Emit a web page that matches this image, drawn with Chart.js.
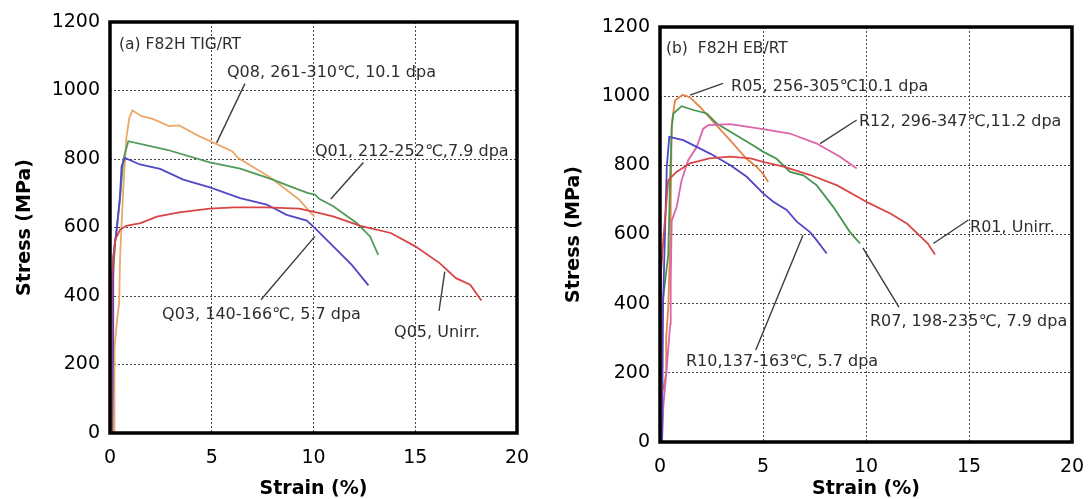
<!DOCTYPE html>
<html>
<head>
<meta charset="utf-8">
<script src="https://cdn.jsdelivr.net/npm/chart.js@4"></script>
<style>
  body { margin:0; background:#fff; width:1090px; height:499px; overflow:hidden; }
  .box { position:absolute; top:0; height:499px; }
  #boxA { left:0; width:540px; }
  #boxB { left:540px; width:550px; }
</style>
</head>
<body>
<div class="box" id="boxA"><canvas id="chartA"></canvas></div>
<div class="box" id="boxB"><canvas id="chartB"></canvas></div>
<script>
// axis ticks
const strainTicks = [0, 5, 10, 15, 20];
const stressTicks = [0, 200, 400, 600, 800, 1000, 1200];

// (a) F82H TIG/RT
const q08Strain = [0.2, 0.22, 0.35, 0.45, 0.5, 0.65, 0.8, 0.95, 1.1, 1.55, 2.1, 2.9, 3.4, 4.4, 5.0, 6.0, 6.3, 7.9, 9.3, 9.8, 10.05];
const q08Stress = [0, 250, 330, 380, 520, 710, 860, 920, 942, 925, 917, 896, 898, 866, 850, 823, 803, 745, 681, 647, 632];
const q01Strain = [0.1, 0.13, 0.25, 0.49, 0.65, 0.9, 2.8, 4.9, 6.4, 8.0, 8.85, 9.7, 10.07, 10.3, 10.97, 12.12, 12.78, 13.18];
const q01Stress = [0, 438, 555, 681, 798, 852, 827, 790, 772, 740, 720, 701, 696, 683, 662, 613, 574, 520];
const q03Strain = [0.1, 0.16, 0.16, 0.33, 0.49, 0.57, 0.74, 1.47, 2.46, 3.6, 4.91, 6.39, 7.7, 8.68, 9.67, 10.07, 10.97, 11.88, 12.7];
const q03Stress = [0, 300, 515, 594, 691, 779, 803, 784, 771, 740, 717, 686, 667, 637, 620, 598, 545, 491, 431];
const q05Strain = [0.05, 0.08, 0.1, 0.25, 0.5, 0.8, 1.5, 2.3, 3.4, 4.9, 6.1, 7.7, 9.3, 10.3, 11.0, 12.3, 13.8, 15.0, 16.2, 17.0, 17.7, 18.25];
const q05Stress = [0, 300, 460, 564, 594, 605, 613, 632, 644, 655, 659, 659, 655, 642, 632, 605, 584, 545, 496, 452, 433, 387];

// (b) F82H EB/RT
const r05Strain = [0.15, 0.3, 0.3, 0.4, 0.5, 0.52, 0.57, 0.73, 1.1, 1.45, 1.95, 2.6, 3.4, 4.2, 4.7, 5.0, 5.25];
const r05Stress = [150, 200, 300, 390, 580, 700, 920, 988, 1004, 997, 968, 925, 873, 819, 795, 776, 752];
const r07Strain = [0, 0.02, 0.16, 0.4, 0.49, 0.57, 0.65, 1.05, 1.62, 2.27, 2.75, 3.56, 4.37, 5.02, 5.66, 6.31, 6.96, 7.61, 8.41, 9.22, 9.71];
const r07Stress = [0, 250, 420, 540, 757, 911, 950, 971, 960, 950, 921, 892, 863, 839, 819, 781, 771, 742, 680, 607, 574];
const r10Strain = [0.1, 0.15, 0.24, 0.33, 0.45, 1.13, 2.43, 3.4, 4.21, 5.01, 5.5, 6.15, 6.64, 7.28, 7.61, 8.09];
const r10Stress = [0, 400, 600, 796, 882, 873, 834, 801, 767, 719, 695, 671, 637, 607, 583, 545];
const r01Strain = [0.03, 0.05, 0.05, 0.16, 0.4, 0.8, 1.45, 2.4, 3.4, 4.4, 5.0, 6.0, 7.3, 8.6, 10.1, 11.2, 12.0, 12.6, 13.0, 13.35];
const r01Stress = [0, 300, 490, 584, 757, 781, 806, 820, 825, 820, 810, 796, 772, 742, 692, 660, 631, 597, 574, 542];
const r12Strain = [0.1, 0.16, 0.33, 0.5, 0.52, 0.57, 0.81, 1.05, 1.37, 1.78, 2.1, 2.35, 3.4, 4.85, 6.31, 7.61, 8.74, 9.55];
const r12Stress = [0, 102, 217, 342, 468, 640, 680, 757, 815, 853, 906, 916, 919, 906, 892, 863, 825, 791];

// callouts: text, text anchor (strain, stress), leader from -> to
const notesA = [
  { text: 'Q08, 261-310\u2103, 10.1 dpa', at: [5.75, 1053], from: [6.63, 1020], to: [5.24, 847] },
  { text: 'Q01, 212-252\u2103,7.9 dpa', at: [10.07, 822], from: [12.45, 790], to: [10.85, 683] },
  { text: 'Q03, 140-166\u2103, 5.7 dpa', at: [2.56, 345], from: [7.42, 389], to: [10.07, 574] },
  { text: 'Q05, Unirr.', at: [13.96, 292], from: [16.17, 357], to: [16.45, 471] }
];
const notesB = [
  { text: 'R05, 256-305\u210310.1 dpa', at: [3.45, 1026], from: [3.06, 1037], to: [1.46, 1003] },
  { text: 'R12, 296-347\u2103,11.2 dpa', at: [9.66, 925], from: [9.55, 931], to: [7.77, 863] },
  { text: 'R01, Unirr.', at: [15.05, 618], from: [14.97, 642], to: [13.27, 574] },
  { text: 'R07, 198-235\u2103, 7.9 dpa', at: [10.19, 347], from: [9.85, 561], to: [11.6, 390] },
  { text: 'R10,137-163\u2103, 5.7 dpa', at: [1.26, 231], from: [4.65, 266], to: [6.94, 598] }
];

const FONT = 'DejaVu Sans';

function pts(xs, ys) { return xs.map((v, i) => ({ x: v, y: ys[i] })); }

function curve(xs, ys, color) {
  return { data: pts(xs, ys), borderColor: color, borderWidth: 1.8, pointRadius: 0, tension: 0, fill: false };
}

function leader(n) {
  return { data: [ { x: n.from[0], y: n.from[1] }, { x: n.to[0], y: n.to[1] } ],
           borderColor: '#3c3c3c', borderWidth: 1.4, pointRadius: 0, fill: false };
}

function framePlugin(title, titleAt, notes) {
  return {
    id: 'frame',
    afterDatasetsDraw(chart) {
      const { ctx, chartArea: a, scales: { x, y } } = chart;
      ctx.save();
      ctx.strokeStyle = '#000';
      ctx.lineWidth = 3.5;
      ctx.strokeRect(a.left, a.top, a.right - a.left, a.bottom - a.top);
      ctx.fillStyle = '#2e2e2e';
      ctx.textBaseline = 'middle';
      ctx.textAlign = 'left';
      ctx.font = '15.5px "' + FONT + '"';
      ctx.fillText(title, x.getPixelForValue(titleAt[0]), y.getPixelForValue(titleAt[1]));
      ctx.font = '16px "' + FONT + '"';
      notes.forEach(n => ctx.fillText(n.text, x.getPixelForValue(n.at[0]), y.getPixelForValue(n.at[1])));
      ctx.restore();
    }
  };
}

function makeChart(id, series, notes, title, titleAt, lay) {
  new Chart(document.getElementById(id), {
    type: 'line',
    data: { datasets: series.concat(notes.map(leader)) },
    options: {
      responsive: true, maintainAspectRatio: false, animation: false,
      layout: { padding: { top: lay.top, right: lay.right, left: 0, bottom: 0 } },
      plugins: { legend: { display: false }, tooltip: { enabled: false } },
      scales: {
        x: {
          type: 'linear', min: 0, max: 20,
          afterBuildTicks: s => { s.ticks = strainTicks.map(v => ({ value: v })); },
          // fixed axis box so the frame sits where the original has it
          afterFit: s => { s.height = lay.xh; s.paddingLeft = 0; s.paddingRight = 0; },
          ticks: { color: '#000', padding: 14, maxRotation: 0, callback: v => String(v),
                   font: { family: FONT, size: 19 } },
          grid: { color: '#444', lineWidth: 1, drawTicks: false },
          border: { display: false, dash: [2, 2] },
          title: { display: true, text: 'Strain (%)', color: '#000', padding: 0,
                   font: { family: FONT, size: 19, weight: 'bold', lineHeight: 1 } }
        },
        y: {
          type: 'linear', min: 0, max: 1200,
          afterBuildTicks: s => { s.ticks = stressTicks.map(v => ({ value: v })); },
          afterFit: s => { s.width = lay.yw; },
          ticks: { color: '#000', padding: 10, callback: v => String(v),
                   font: { family: FONT, size: 19 } },
          grid: { color: '#444', lineWidth: 1, drawTicks: false },
          border: { display: false, dash: [2, 2] },
          title: { display: true, text: 'Stress (MPa)', color: '#000', padding: { top: lay.tp, bottom: 0 },
                   font: { family: FONT, size: 19, weight: 'bold', lineHeight: 1 } }
        }
      }
    },
    plugins: [framePlugin(title, titleAt, notes)]
  });
}

makeChart('chartA', [
  curve(q05Strain, q05Stress, '#d84444'),
  curve(q03Strain, q03Stress, '#5048c4'),
  curve(q01Strain, q01Stress, '#509a5a'),
  curve(q08Strain, q08Stress, '#eca868')
], notesA, '(a) F82H TIG/RT', [0.44, 1134], { top: 22, right: 23, xh: 66, yw: 110, tp: 16 });

makeChart('chartB', [
  curve(r01Strain, r01Stress, '#d84848'),
  curve(r10Strain, r10Stress, '#5046c8'),
  curve(r12Strain, r12Stress, '#dc64aa'),
  curve(r07Strain, r07Stress, '#469650'),
  curve(r05Strain, r05Stress, '#e68446')
], notesB, '(b)  F82H EB/RT', [0.29, 1136], { top: 27, right: 18, xh: 57, yw: 120, tp: 25 });
</script>
</body>
</html>
